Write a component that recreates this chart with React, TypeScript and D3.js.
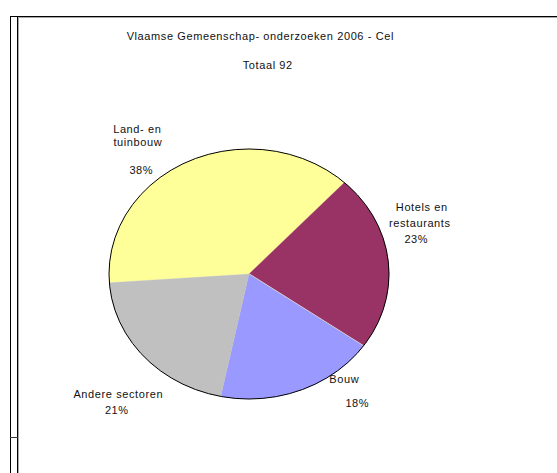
import React from "react";
import * as d3 from "d3";

const title = "Vlaamse Gemeenschap- onderzoeken 2006 - Cel";
const subtitle = "Totaal 92";
const categories = ["Land- en tuinbouw", "Hotels en restaurants", "Onbekend", "Bouw", "Andere sectoren"];
const counts = [35, 21, 0, 17, 19];
const colors = ["#FFFF99", "#993366", "#FFFFCC", "#9999FF", "#C0C0C0"];
const labelLines = [["Land- en", "tuinbouw"], ["Hotels en", "restaurants"], [], ["Bouw"], ["Andere sectoren"]];

// label layout (positions only)
const labelLayout = [
  { lines: [[137, 133], [137.5, 146]], pct: [141, 174] },
  { lines: [[421.5, 211], [419.5, 227]], pct: [416, 243] },
  null,
  { lines: [[344, 383]], pct: [357, 407] },
  { lines: [[118, 398]], pct: [116.5, 414] },
];

const W = 557;
const H = 473;
const cx = 249;
const cy = 274;
const rx = 140;
const ry = 125;

export default function App() {
  const total = d3.sum(counts);
  const pie = d3
    .pie<number>()
    .sort(null)
    .value((d) => d)
    .startAngle((-94 * Math.PI) / 180)
    .endAngle((266 * Math.PI) / 180);
  const arcs = pie(counts);
  const arcGen = d3.arc<d3.PieArcDatum<number>>().innerRadius(0).outerRadius(rx);
  const font = "'Liberation Sans', Arial, sans-serif";
  const fs = 11;
  const ls = 0.6;

  return (
    <div style={{ position: "absolute", left: 0, top: 0 }}>
      <svg width={W} height={H} style={{ display: "block", background: "#fff" }}>
        {/* frame */}
        <line x1={10} y1={16.5} x2={W} y2={16.5} stroke="#000" strokeWidth={1} />
        <line x1={18} y1={17.5} x2={W} y2={17.5} stroke="#aaa" strokeWidth={1} />
        <line x1={10.5} y1={16} x2={10.5} y2={H} stroke="#000" strokeWidth={1} />
        <line x1={17.5} y1={17} x2={17.5} y2={H} stroke="#000" strokeWidth={1} />
        <line x1={18.5} y1={18} x2={18.5} y2={H} stroke="#aaa" strokeWidth={1} />
        <line x1={10} y1={437.5} x2={18} y2={437.5} stroke="#333" strokeWidth={1} />

        <g fontFamily={font} fontSize={fs} fill="#111" textAnchor="middle" letterSpacing={ls}>
          <text x={260.3} y={40}>{title}</text>
          <text x={267.8} y={69}>{subtitle}</text>
        </g>

        <g transform={`translate(${cx},${cy}) scale(1,${ry / rx})`}>
          {arcs.map((a, i) =>
            counts[i] > 0 ? (
              <path key={categories[i]} d={arcGen(a) || ""} fill={colors[i]} stroke={colors[i]} strokeWidth={0.3} />
            ) : (
              <line
                key={categories[i]}
                x1={0}
                y1={0}
                x2={rx * Math.sin(a.startAngle)}
                y2={-rx * Math.cos(a.startAngle)}
                stroke={colors[i]}
                strokeWidth={1.2}
              />
            )
          )}
        </g>
        <ellipse cx={cx} cy={cy} rx={rx} ry={ry} fill="none" stroke="#000" strokeWidth={1} />

        {arcs.map((a, i) => {
          const lay = labelLayout[i];
          if (!lay) return null;
          const pct = Math.round((counts[i] / total) * 100) + "%";
          return (
            <g key={"lbl" + i} fontFamily={font} fontSize={fs} fill="#111" textAnchor="middle" letterSpacing={ls}>
              {labelLines[i].map((t, j) => (
                <text key={j} x={lay.lines[j][0] + ls / 2} y={lay.lines[j][1]}>
                  {t}
                </text>
              ))}
              <text x={lay.pct[0] + ls / 2} y={lay.pct[1]}>
                {pct}
              </text>
            </g>
          );
        })}
      </svg>
    </div>
  );
}
